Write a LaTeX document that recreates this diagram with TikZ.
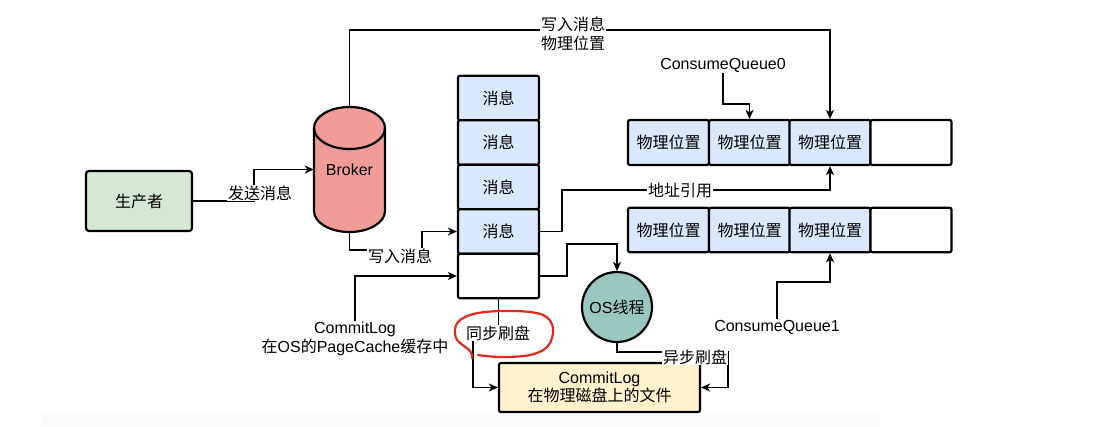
\documentclass[tikz,border=0pt]{standalone}
\usepackage{fontspec}
\setmainfont{Liberation Sans}
\newfontfamily\cjk{Noto Sans CJK SC}
\usetikzlibrary{arrows.meta}
\definecolor{msgblue}{HTML}{DAE8FC}
\definecolor{prodgreen}{HTML}{D5E8D4}
\definecolor{brokerred}{HTML}{F19C99}
\definecolor{osteal}{HTML}{9AC7BF}
\definecolor{fileyellow}{HTML}{FFF2CC}
\definecolor{markred}{HTML}{E8281C}
\begin{document}
\begin{tikzpicture}[x=1pt,y=-1pt,
  font=\fontsize{16}{18.5}\selectfont,
  cell/.style={draw, line width=2.2pt, rounded corners=2pt, minimum width=81pt,
    minimum height=44.5pt, inner sep=0pt},
  msgcell/.style={cell, fill=msgblue},
  conn/.style={line width=1.3pt},
  arr/.style={conn, -{Stealth[length=9pt,width=8pt,inset=2.5pt]}},
  lbl/.style={fill=white, inner sep=1pt, align=center},
  plain/.style={inner sep=1pt, align=center}]
\useasboundingbox (0,0) rectangle (1098,426);
\fill[black!1.5] (42,414) rectangle (880,426);

% producer
\node[draw, line width=2.2pt, rounded corners=3pt, fill=prodgreen,
  minimum width=106pt, minimum height=60pt] (prod) at (139,201) {\cjk 生产者};

% broker cylinder
\fill[brokerred] (314,128) -- (314,211)
  arc[start angle=180,end angle=360,x radius=35.5pt,y radius=21pt] -- (385,128)
  arc[start angle=0,end angle=180,x radius=35.5pt,y radius=21pt] -- cycle;
\draw[line width=2.2pt] (314,128) -- (314,211)
  arc[start angle=180,end angle=360,x radius=35.5pt,y radius=21pt] -- (385,128)
  arc[start angle=0,end angle=180,x radius=35.5pt,y radius=21pt] -- cycle;
\draw[line width=2.2pt] (314,128)
  arc[start angle=180,end angle=360,x radius=35.5pt,y radius=21pt];
\node[minimum width=71pt, minimum height=125pt, inner sep=0pt] (broker) at (349.5,169.5) {Broker};

% commit log messages
\node[msgcell] (m1) at (498.5,98) {\cjk 消息};
\node[msgcell] (m2) at (498.5,142.5) {\cjk 消息};
\node[msgcell] (m3) at (498.5,187) {\cjk 消息};
\node[msgcell] (m4) at (498.5,231.5) {\cjk 消息};
\node[cell, fill=white] (m5) at (498.5,276) {};

% consume queues
\node[msgcell, minimum height=45pt] (a1) at (668.5,142.5) {\cjk 物理位置};
\node[msgcell, minimum height=45pt] (a2) at (749.5,142.5) {\cjk 物理位置};
\node[msgcell, minimum height=45pt] (a3) at (830,142.5) {\cjk 物理位置};
\node[cell, fill=white, minimum height=45pt] (a4) at (911,142.5) {};
\node[msgcell] (b1) at (668.5,230) {\cjk 物理位置};
\node[msgcell] (b2) at (749.5,230) {\cjk 物理位置};
\node[msgcell] (b3) at (830,230) {\cjk 物理位置};
\node[cell, fill=white] (b4) at (911,230) {};

% OS thread and file on disk
\node[circle, draw, line width=2.2pt, fill=osteal, minimum size=70pt, inner sep=0pt]
  (os) at (617,307) {OS{\cjk 线程}};
\node[draw, line width=2.2pt, rounded corners=2pt, fill=fileyellow,
  minimum width=201pt, minimum height=49pt, align=center] (file) at (599.5,387.5)
  {CommitLog\\{\cjk 在物理磁盘上的文件}};

% free labels
\node[plain] (cq0) at (723,65) {ConsumeQueue0};
\node[plain] (cq1) at (777,327) {ConsumeQueue1};
\node[plain] (cl) at (355,339) {CommitLog\\{\cjk 在}OS{\cjk 的}PageCache{\cjk 缓存中}};

% connectors
\draw[arr] (prod.east) -- (254,201) |- (broker.west);
\draw[arr] (broker.north) -- (349.5,30) -| (a3.north);
\draw[arr] (broker.south) -- (349.5,250) -- (422,250) |- (m4.west);
\draw[arr] (cl.north) |- (m5.west);
\draw[arr] (m4.east) -- (562,231.5) |- (680,190) -| (a3.south);
\draw[arr] (m5.east) -- (567,276) -- (567,244) -| (os.north);
\draw[arr] (os.south) |- (728,352) |- (file.east);
\draw[arr] (m5.south) -- (498.5,335) -- (473,335) |- (file.west);
\draw[arr] (cq0.south) -- (723,104) -| (a2.north);
\draw[arr] (cq1.north) -- (777,282) -| (b3.south);

% connector labels
\node[lbl] at (260,193) {\cjk 发送消息};
\node[lbl] at (573,34) {{\cjk 写入消息}\\{\cjk 物理位置}};
\node[lbl] at (400,256) {\cjk 写入消息};
\node[lbl] at (680,190) {\cjk 地址引用};
\node[lbl] at (695,357) {\cjk 异步刷盘};
\node[lbl] (sync) at (498,333) {\cjk 同步刷盘};

% hand-drawn highlight
\draw[markred, line width=2.2pt, line cap=round] plot[smooth, tension=0.6] coordinates
  {(472,358) (470,351) (456,338) (458,322) (478,313) (515,311) (543,315) (553,328)
   (548,346) (530,355) (500,357) (478,355)};
\end{tikzpicture}
\end{document}
